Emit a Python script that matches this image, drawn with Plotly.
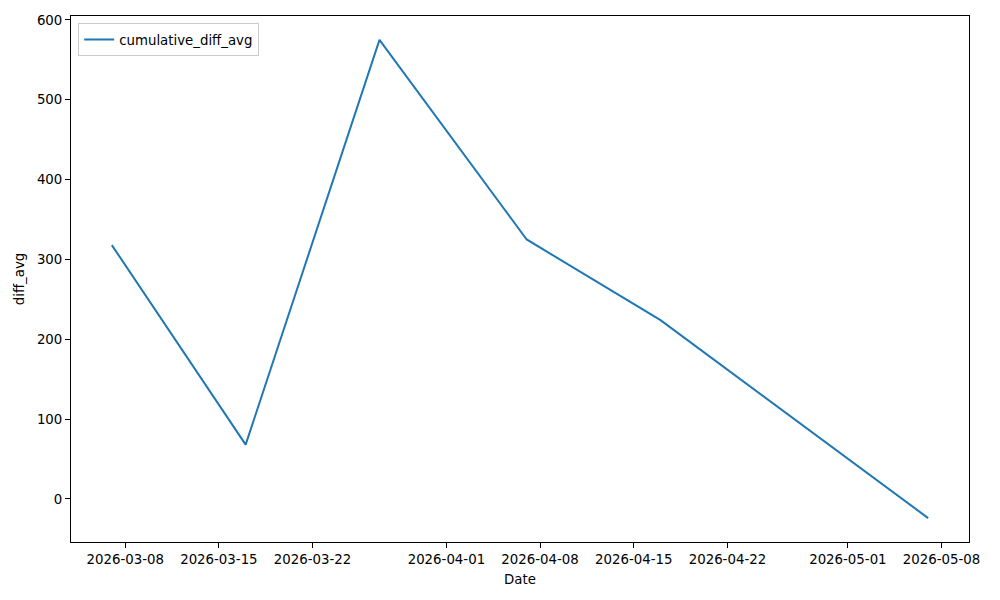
import plotly.graph_objects as go
import pandas as pd

dates = ["2026-03-07", "2026-03-17", "2026-03-27", "2026-04-07", "2026-04-17", "2026-05-07"]
values = [318, 68, 575, 325, 224, -24]
series_name = "cumulative_diff_avg"
x_ticks = ["2026-03-08", "2026-03-15", "2026-03-22", "2026-04-01", "2026-04-08",
           "2026-04-15", "2026-04-22", "2026-05-01", "2026-05-08"]
y_ticks = [0, 100, 200, 300, 400, 500, 600]

d = pd.to_datetime(dates)
span = d.max() - d.min()
xr = [d.min() - span * 0.05, d.max() + span * 0.05]
vspan = max(values) - min(values)
yr = [min(values) - vspan * 0.05, max(values) + vspan * 0.05]

fig = go.Figure()
fig.add_trace(go.Scatter(x=d, y=values, mode="lines", name=series_name,
                         line=dict(color="#1f77b4", width=2), showlegend=True))

axis_common = dict(showline=True, linecolor="black", linewidth=1, mirror=True,
                   ticks="outside", ticklen=5, tickcolor="black", tickwidth=1,
                   showgrid=False, zeroline=False, automargin=False,
                   tickfont=dict(family="DejaVu Sans", size=13.33, color="black"))

fig.update_layout(
    width=1000, height=600,
    margin=dict(l=71, r=31, t=16, b=58),
    paper_bgcolor="white", plot_bgcolor="white",
    font=dict(family="DejaVu Sans", size=13.33, color="black"),
    showlegend=True,
    legend=dict(x=0.008, y=0.986, xanchor="left", yanchor="top",
                bgcolor="white", bordercolor="#cccccc", borderwidth=1,
                font=dict(family="DejaVu Sans", size=13.33, color="black")),
    xaxis=dict(range=[xr[0], xr[1]], tickvals=pd.to_datetime(x_ticks), ticktext=x_ticks,
               title=dict(text="Date", standoff=8, font=dict(size=13.33)), **axis_common),
    yaxis=dict(range=yr, tickvals=y_ticks, ticktext=[str(v) for v in y_ticks],
               title=dict(text="diff_avg", standoff=9, font=dict(size=13.33)), **axis_common),
)

fig.write_html("out.html", config={"displayModeBar": False},
               post_script="document.body.style.margin='0';document.body.style.overflow='hidden';")
